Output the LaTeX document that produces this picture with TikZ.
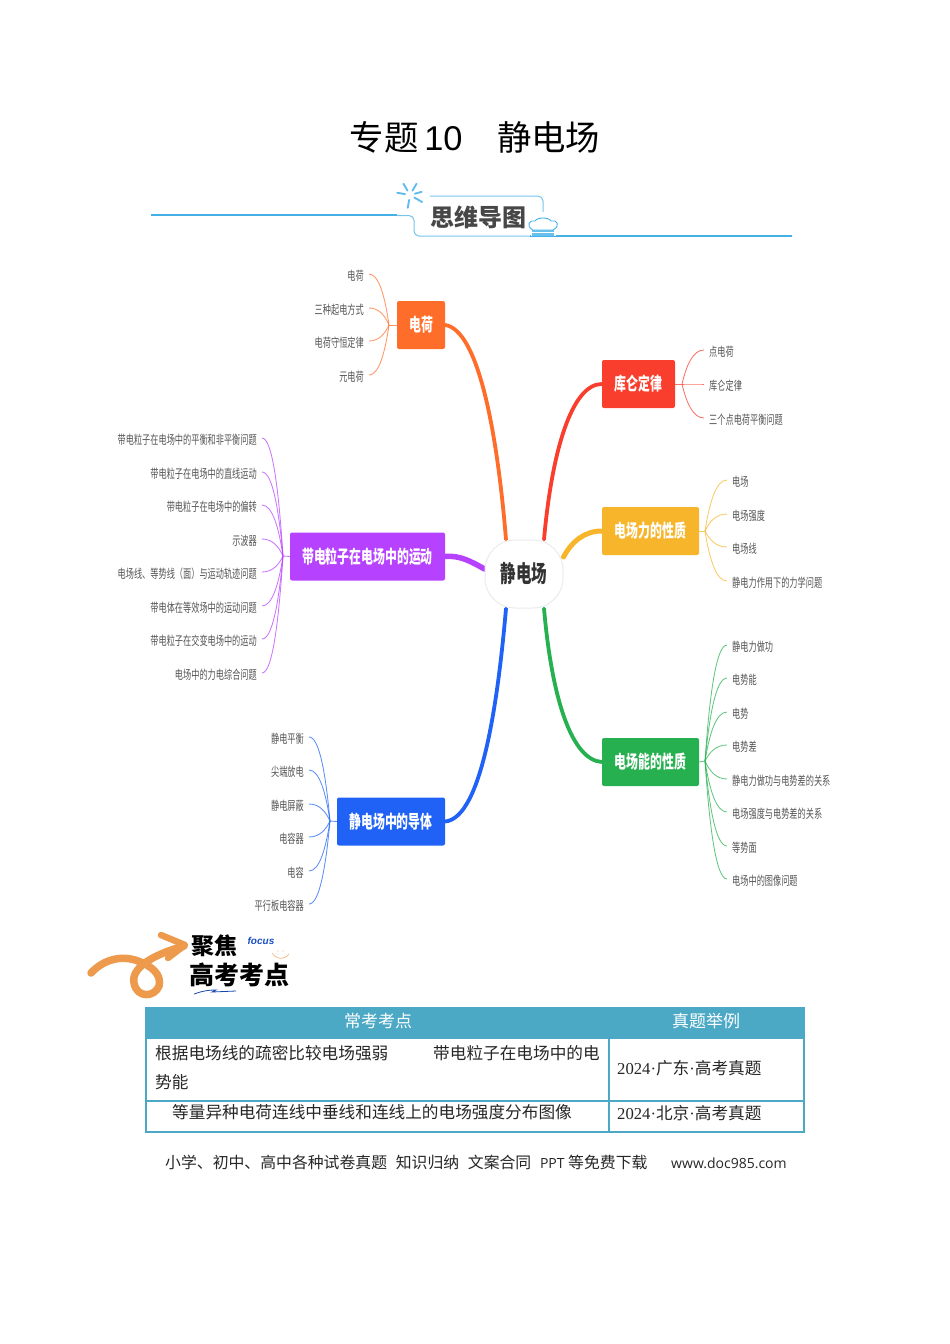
\documentclass[tikz,border=0pt]{standalone}
\usepackage{fontspec}
\setmainfont{Noto Sans CJK SC}
\newfontfamily\narrowcjk[FakeStretch=0.66]{Noto Sans CJK SC}
\newfontfamily\latinsans{Liberation Sans}
\newfontfamily\latinserif{Liberation Serif}
\newfontfamily\footlatin{Open Sans}
\usetikzlibrary{backgrounds,calc}
\definecolor{cOrange}{HTML}{FF6D2A}
\definecolor{cRed}{HTML}{F93E2E}
\definecolor{cYellow}{HTML}{F7B52B}
\definecolor{cGreen}{HTML}{27B04F}
\definecolor{cPurple}{HTML}{B641FF}
\definecolor{cBlue}{HTML}{1F62F5}
\definecolor{cSky}{HTML}{45B0E8}
\definecolor{cTeal}{HTML}{4BA9C6}
\definecolor{cLogo}{HTML}{EE9A4D}
\definecolor{cInk}{HTML}{555555}
\tikzset{
  x=1pt,y=-1pt,
  branchbox/.style={rounded corners=2pt,inner sep=0pt,text=white,
    font=\narrowcjk\fontsize{18}{18}\selectfont\bfseries},
  leaftext/.style={inner xsep=5pt,inner ysep=0pt,text=cInk,
    font=\narrowcjk\fontsize{12.4}{12.4}\selectfont},
  trunk/.style={line width=3.8pt,line cap=round},
  twig/.style={line width=.85pt,opacity=.72},
  cell/.style={inner sep=0pt,anchor=west,text=black!85,font=\fontsize{16.65}{17}\selectfont},
  headcell/.style={inner sep=0pt,text=white,font=\fontsize{17}{17}\selectfont},
  tablerule/.style={draw=cTeal,line width=1.5pt},
  skyline/.style={draw=cSky,line width=1.6pt},
  skythin/.style={draw=cSky!75,line width=1pt,rounded corners=5pt},
}
% #1 prefix, #2 colour, #3 branch node, #4 junction x, #5 junction y, #6 line end x, #7 list y/text
\newcommand{\leavesL}[7]{%
  \coordinate (#1j) at (#4,#5);
  \begin{scope}[on background layer]\draw[twig,draw=#2] (#3.west) -- (#1j);\end{scope}
  \foreach \ly/\lt [count=\li] in {#7}{%
    \node[leaftext,anchor=east] (#1\li) at (#6,\ly+2) {\lt};
    \begin{scope}[on background layer]
    \draw[twig,draw=#2] (#1j) .. controls ({#4+0.2*(#6-#4)},{#5+0.55*(\ly-#5)}) and ({#4+0.5*(#6-#4)},\ly) .. ([yshift=2pt]#1\li.east);
    \end{scope}
  }%
}
\newcommand{\leavesR}[7]{%
  \coordinate (#1j) at (#4,#5);
  \begin{scope}[on background layer]\draw[twig,draw=#2] (#3.east) -- (#1j);\end{scope}
  \foreach \ly/\lt [count=\li] in {#7}{%
    \node[leaftext,anchor=west] (#1\li) at (#6,\ly+2) {\lt};
    \begin{scope}[on background layer]
    \draw[twig,draw=#2] (#1j) .. controls ({#4+0.2*(#6-#4)},{#5+0.55*(\ly-#5)}) and ({#4+0.5*(#6-#4)},\ly) .. ([yshift=2pt]#1\li.west);
    \end{scope}
  }%
}
\begin{document}
\begin{tikzpicture}
\useasboundingbox (0,0) rectangle (950,1344);
% title
\node[inner sep=0pt,text=black,font=\fontsize{34.4}{35}\selectfont] (title) at (475,137) {专题{\latinsans\,10}\hspace{1em}静电场};
% banner
\draw[skyline] (151,215) -- (397,215);
\draw[skythin] (397,215.5) -- (414,215.5) -- (414,236) -- (543,236);
\draw[skythin] (430,196) -- (543,196) -- (543,212);
\draw[skyline] (530,236) -- (792,236);
\foreach \a/\r in {100/13,30/14,-15/12,-60/13,-120/13,-170/13}
  \draw[cSky!85,line width=1.9pt,line cap=round] (410,195) ++(\a:5) -- ++(\a:\r-5);
\node[inner sep=0pt,text=black!72,font=\fontsize{24}{24}\selectfont\bfseries] (mindlabel) at (478,217) {思维导图};
% chef hat
\fill[white] (531,222) rectangle (556,236);
\draw[cSky,fill=white,line width=.9pt] (533,230) .. controls (525,226) and (530,219) .. (535,221) .. controls (537,217) and (549,217) .. (551,221) .. controls (557,219) and (561,226) .. (553,230) -- cycle;
\fill[cSky!80] (532,230) rectangle (554,236);
\fill[white] (532,232) rectangle (554,233);
% centre and branch nodes
\node[fill=white,draw=black!8,line width=1pt,rounded corners=30pt,minimum width=78pt,minimum height=68pt,inner sep=0pt,text=black!80,
  font=\narrowcjk\fontsize{23.5}{24}\selectfont\bfseries] (root) at (524,574) {静电场};
\node[branchbox,fill=cOrange,minimum width=48pt,minimum height=48pt] (bCharge) at (421,325) {电荷};
\node[branchbox,fill=cRed,minimum width=73pt,minimum height=48pt] (bCoulomb) at (638.5,384) {库仑定律};
\node[branchbox,fill=cYellow,minimum width=97pt,minimum height=48pt] (bForce) at (650.5,531) {电场力的性质};
\node[branchbox,fill=cGreen,minimum width=97pt,minimum height=48pt] (bEnergy) at (650.5,762) {电场能的性质};
\node[branchbox,fill=cPurple,minimum width=155pt,minimum height=48pt] (bMotion) at (367.5,556.5) {带电粒子在电场中的运动};
\node[branchbox,fill=cBlue,minimum width=108pt,minimum height=48pt] (bConductor) at (391,821.5) {静电场中的导体};
% trunks
\begin{scope}[on background layer]
\draw[trunk,cOrange] (bCharge.east) .. controls (478,330) and (497,430) .. ([xshift=-18pt]root.north);
\draw[trunk,cRed] (bCoulomb.west) .. controls (572,384) and (552,450) .. ([xshift=20pt]root.north);
\draw[trunk,cYellow,line width=5pt] (bForce.west) .. controls (585,531) and (572,541) .. ([yshift=17pt]root.east);
\draw[trunk,cGreen] (bEnergy.west) .. controls (572,760) and (552,700) .. ([xshift=20pt]root.south);
\draw[trunk,cPurple,line width=5.5pt] (bMotion.east) .. controls (460,555) and (472,562) .. ([yshift=5pt]root.west);
\draw[trunk,cBlue] (bConductor.east) .. controls (482,818) and (498,700) .. ([xshift=-18pt]root.south);
\end{scope}
% leaves
\leavesL{a}{cOrange}{bCharge}{389}{325}{369}{274/电荷,308/三种起电方式,341/电荷守恒定律,375/元电荷}
\leavesL{m}{cPurple}{bMotion}{283}{556}{262}{438/带电粒子在电场中的平衡和非平衡问题,472/带电粒子在电场中的直线运动,505/带电粒子在电场中的偏转,539/示波器,572/电场线、等势线（面）与运动轨迹问题,606/带电体在等效场中的运动问题,639/带电粒子在交变电场中的运动,673/电场中的力电综合问题}
\leavesL{c}{cBlue}{bConductor}{330}{821}{309}{737/静电平衡,770/尖端放电,804/静电屏蔽,837/电容器,871/电容,904/平行板电容器}
\leavesR{k}{cRed}{bCoulomb}{682}{384}{704}{350/点电荷,384/库仑定律,418/三个点电荷平衡问题}
\leavesR{f}{cYellow}{bForce}{705}{531}{727}{480/电场,514/电场强度,547/电场线,581/静电力作用下的力学问题}
\leavesR{e}{cGreen}{bEnergy}{705}{761}{727}{645/静电力做功,678/电势能,712/电势,745/电势差,779/静电力做功与电势差的关系,812/电场强度与电势差的关系,846/等势面,879/电场中的图像问题}
% focus logo
\draw[cLogo,line width=7.5pt,line cap=round,line join=round] (91,973) .. controls (104,959) and (122,955) .. (138,961) .. controls (152,966) and (162,975) .. (159,986) .. controls (155,997) and (137,999) .. (134,983) .. controls (131,968) and (152,955) .. (184,946);
\draw[cLogo,line width=6.5pt,line cap=round,line join=round] (161,935) -- (185,945) -- (168,958);
\node[inner sep=0pt,text=black,font=\fontsize{23}{23}\selectfont\bfseries] (focuscn) at (214,946) {聚焦};
\node[inner sep=0pt,text=cBlue!80!black,font=\latinsans\fontsize{10}{10}\selectfont\bfseries\itshape] (focusen) at (261,941) {focus};
\node[inner sep=0pt,text=black,font=\fontsize{25}{25}\selectfont\bfseries] (gaokao) at (239,975) {高考考点};
\draw[cLogo!70,line width=.7pt] (272,953) .. controls (277,960) and (284,960) .. (289,954);
\fill[cLogo!70] (278,951) circle (.6) (283,951) circle (.6);
\draw[cBlue!70!black,line width=.8pt] (194,994) .. controls (205,990) and (212,990) .. (216,990) -- (212,992) -- (236,991);
% table
\fill[cTeal] (146,1008) rectangle (804,1039);
\draw[tablerule] (146,1008) rectangle (804,1132);
\draw[tablerule] (609,1039) -- (609,1132);
\draw[tablerule] (146,1101) -- (804,1101);
\node[headcell] (h1) at (378,1021) {常考考点};
\node[headcell] (h2) at (706,1021) {真题举例};
\node[cell] (r1a) at (155,1053) {根据电场线的疏密比较电场强弱};
\node[cell] (r1b) at (433,1053) {带电粒子在电场中的电};
\node[cell] (r1c) at (155,1082) {势能};
\node[cell] (r1d) at (617,1068) {{\latinserif 2024·}广东{\latinserif ·}高考真题};
\node[cell] (r2a) at (172,1112) {等量异种电荷连线中垂线和连线上的电场强度分布图像};
\node[cell] (r2b) at (617,1113) {{\latinserif 2024·}北京{\latinserif ·}高考真题};
% footer
\node[inner sep=0pt,text=black!85,anchor=west,font=\fontsize{15.85}{16}\selectfont] (foot) at (165,1162) {小学、初中、高中各种试卷真题\hspace{.55em}知识归纳\hspace{.55em}文案合同\hspace{.55em}{\footlatin\fontsize{14}{16}\selectfont PPT} 等免费下载\hspace{1.5em}{\footlatin\fontsize{14}{16}\selectfont www.doc985.com}};
\end{tikzpicture}
\end{document}
